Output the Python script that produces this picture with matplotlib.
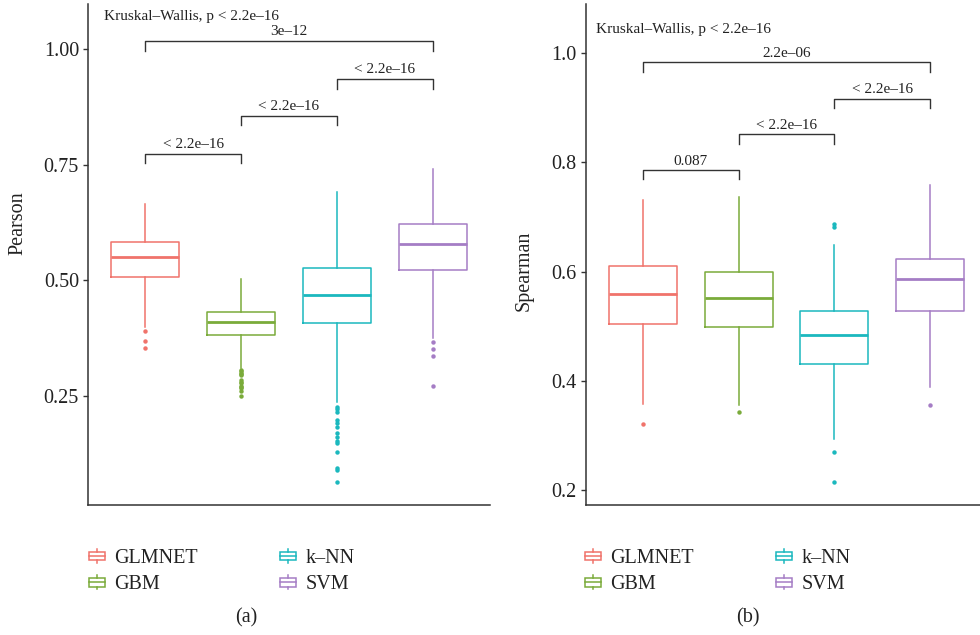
import numpy as np
import matplotlib
matplotlib.use("Agg")
import matplotlib.pyplot as plt
from matplotlib.legend_handler import HandlerBase
from matplotlib.patches import Rectangle
from matplotlib.lines import Line2D

plt.rcParams['font.family'] = ['Liberation Serif', 'DejaVu Serif']

models = ['GLMNET', 'GBM', 'k\u2013NN', 'SVM']
colors = ['#F0736B', '#7AAB3A', '#1BB8BE', '#A57DC5']

# Pearson (panel a)
pearson_q1 = [0.507, 0.381, 0.408, 0.522]
pearson_med = [0.551, 0.410, 0.469, 0.578]
pearson_q3 = [0.583, 0.432, 0.527, 0.622]
pearson_lo = [0.398, 0.309, 0.237, 0.374]
pearson_hi = [0.664, 0.502, 0.692, 0.740]
pearson_out = [
    [0.391, 0.369, 0.353],
    [0.306, 0.303, 0.300, 0.297, 0.295, 0.283, 0.280, 0.277, 0.272, 0.268, 0.266, 0.261, 0.250],
    [0.226, 0.222, 0.214, 0.197, 0.190, 0.182, 0.170, 0.161, 0.152, 0.148, 0.128, 0.094, 0.089, 0.063],
    [0.367, 0.352, 0.335, 0.272],
]
pearson_pairs = [(0, 1), (1, 2), (2, 3), (0, 3)]
pearson_p = ['< 2.2e\u201316', '< 2.2e\u201316', '< 2.2e\u201316', '3e\u201312']
pearson_bar = [0.774, 0.856, 0.936, 1.018]

# Spearman (panel b)
spearman_q1 = [0.503, 0.498, 0.430, 0.528]
spearman_med = [0.559, 0.551, 0.483, 0.586]
spearman_q3 = [0.611, 0.600, 0.528, 0.623]
spearman_lo = [0.357, 0.355, 0.293, 0.389]
spearman_hi = [0.731, 0.737, 0.649, 0.759]
spearman_out = [
    [0.320],
    [0.342],
    [0.687, 0.682, 0.270, 0.214],
    [0.355],
]
spearman_pairs = [(0, 1), (1, 2), (2, 3), (0, 3)]
spearman_p = ['0.087', '< 2.2e\u201316', '< 2.2e\u201316', '2.2e\u201306']
spearman_bar = [0.786, 0.8515, 0.917, 0.9835]

kw_text = 'Kruskal\u2013Wallis, p < 2.2e\u201316'
dark = '#333333'


class BoxHandler(HandlerBase):
    def create_artists(self, legend, orig_handle, xdescent, ydescent,
                       width, height, fontsize, trans):
        c = orig_handle.get_color()
        cx = width / 2 - xdescent
        cy = height / 2 - ydescent
        bh = height * 0.62
        rect = Rectangle((-xdescent, cy - bh / 2), width, bh, fill=False,
                         edgecolor=c, linewidth=1.1, transform=trans)
        mid = Line2D([-xdescent, width - xdescent], [cy, cy], color=c, lw=1.1, transform=trans)
        top = Line2D([cx, cx], [cy + bh / 2, cy + height * 0.5], color=c, lw=1.1, transform=trans)
        bot = Line2D([cx, cx], [cy - bh / 2, cy - height * 0.5], color=c, lw=1.1, transform=trans)
        return [rect, mid, top, bot]


def draw_panel(ax, q1, med, q3, lo, hi, out, pairs, plabels, bars, drop,
               ylim, yticks, yfmt, ylabel, kw_pos):
    stats = []
    for i in range(len(models)):
        stats.append(dict(med=med[i], q1=q1[i], q3=q3[i], whislo=lo[i],
                          whishi=hi[i], fliers=out[i], label=models[i]))
    for i, s in enumerate(stats):
        c = colors[i]
        ax.bxp([s], positions=[i + 1], widths=0.71, showcaps=False,
               boxprops=dict(color=c, linewidth=1.1),
               whiskerprops=dict(color=c, linewidth=1.1),
               medianprops=dict(color=c, linewidth=2.0),
               flierprops=dict(marker='o', markerfacecolor=c, markeredgecolor=c,
                               markersize=3.2, markeredgewidth=0))
    for (a, b), lab, yb in zip(pairs, plabels, bars):
        xa, xb = a + 1, b + 1
        ax.plot([xa, xa, xb, xb], [yb - drop, yb, yb, yb - drop], color=dark, lw=1.0)
        ax.annotate(lab, ((xa + xb) / 2, yb), xytext=(0, 6.5), textcoords='offset points',
                    ha='center', va='center', fontsize=11, color='#222222')
    ax.text(kw_pos[0], kw_pos[1], kw_text, ha='left', va='center', fontsize=11, color='#222222')
    ax.set_xlim(0.4, 4.6)
    ax.set_ylim(*ylim)
    ax.set_xticks([])
    ax.set_yticks(yticks)
    ax.set_yticklabels([yfmt.format(t) for t in yticks])
    ax.tick_params(axis='y', length=3.5, width=1.0, color=dark, labelsize=14.5,
                   labelcolor='#222222', pad=3)
    for sp in ['top', 'right']:
        ax.spines[sp].set_visible(False)
    for sp in ['left', 'bottom']:
        ax.spines[sp].set_color(dark)
        ax.spines[sp].set_linewidth(1.1)
    ax.set_ylabel(ylabel, fontsize=14.5, color='#222222')


W, H = 980, 635
fig = plt.figure(figsize=(W / 100, H / 100), dpi=100)

ax1 = fig.add_axes([88 / W, (H - 505) / H, 402 / W, 501 / H])
ax2 = fig.add_axes([585.5 / W, (H - 505) / H, 402 / W, 501 / H])

draw_panel(ax1, pearson_q1, pearson_med, pearson_q3, pearson_lo, pearson_hi, pearson_out,
           pearson_pairs, pearson_p, pearson_bar, 0.021, (0.0134, 1.098),
           [0.25, 0.50, 0.75, 1.00], '{:.2f}', 'Pearson', (0.568, 1.071))
draw_panel(ax2, spearman_q1, spearman_med, spearman_q3, spearman_lo, spearman_hi, spearman_out,
           spearman_pairs, spearman_p, spearman_bar, 0.017, (0.172, 1.0904),
           [0.2, 0.4, 0.6, 0.8, 1.0], '{:.1f}', 'Spearman', (0.505, 1.044))

ax1.yaxis.set_label_coords((27 - 88) / 402, (505 - 223) / 501)
ax2.yaxis.set_label_coords((534 - 585.5) / 402, (505 - 271) / 501)

handles = [Line2D([], [], color=c) for c in colors]
for ax, x0, cap, capx in [(ax1, 89, '(a)', 246.7), (ax2, 585, '(b)', 748)]:
    fig.legend(handles, models, loc='upper left', bbox_to_anchor=(x0 / W, 1 - 549 / H),
               ncol=2, frameon=False, fontsize=14.5, borderpad=0, borderaxespad=0,
               handler_map={Line2D: BoxHandler()}, handlelength=0.8, handleheight=0.7,
               handletextpad=0.45, labelspacing=0.35, columnspacing=4.1, labelcolor='#222222')
    fig.text(capx / W, 1 - 618 / H, cap, ha='center', va='center', fontsize=14.5, color='#222222')

fig.savefig('out.png', dpi=100)
